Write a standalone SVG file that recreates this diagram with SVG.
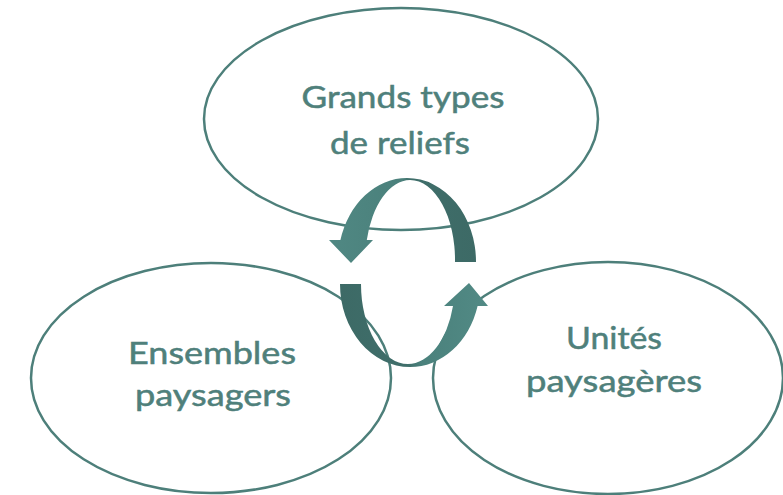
<svg xmlns="http://www.w3.org/2000/svg" width="783" height="495" viewBox="0 0 783 495">
  <style>
    .node-shape { fill: #ffffff; stroke: #4d7f7a; stroke-width: 2.5; }
    .label { font-family: Lato, "Open Sans", "Liberation Sans", sans-serif; font-size: 30px; fill: #4f807b; stroke: #4f807b; stroke-width: 0.5; text-anchor: middle; }
  </style>
  <defs>
    <linearGradient id="gTop" x1="0" y1="0" x2="1" y2="0">
      <stop offset="0" stop-color="#508883"/>
      <stop offset="0.5" stop-color="#4a807b"/>
      <stop offset="0.55" stop-color="#3f6e6a"/>
      <stop offset="1" stop-color="#3d6a66"/>
    </linearGradient>
    <linearGradient id="gBot" x1="0" y1="0" x2="1" y2="0">
      <stop offset="0" stop-color="#3d6a66"/>
      <stop offset="0.45" stop-color="#3f6e6a"/>
      <stop offset="0.55" stop-color="#4a817c"/>
      <stop offset="1" stop-color="#528a85"/>
    </linearGradient>
  </defs>

  <g id="node-reliefs">
    <ellipse class="node-shape" cx="401" cy="119" rx="197" ry="111"/>
    <text class="label" x="403" y="108" textLength="203" lengthAdjust="spacingAndGlyphs">Grands types</text>
    <text class="label" x="400" y="154" textLength="140" lengthAdjust="spacingAndGlyphs">de reliefs</text>
  </g>

  <g id="node-ensembles">
    <ellipse class="node-shape" cx="211" cy="378" rx="180" ry="115"/>
    <text class="label" x="212" y="364" textLength="168" lengthAdjust="spacingAndGlyphs">Ensembles</text>
    <text class="label" x="213" y="406" textLength="156" lengthAdjust="spacingAndGlyphs">paysagers</text>
  </g>

  <g id="node-unites">
    <ellipse class="node-shape" cx="608" cy="378" rx="175" ry="116"/>
    <text class="label" x="614" y="349" textLength="96" lengthAdjust="spacingAndGlyphs">Unités</text>
    <text class="label" x="614" y="392" textLength="176" lengthAdjust="spacingAndGlyphs">paysagères</text>
  </g>

  <g id="connectors">
    <path id="arrow-top" fill="url(#gTop)" d="M 476 262 A 69 84 0 0 0 407 178 A 69 84 0 0 0 340.4 240 L 329 240 L 351 263 L 373 240 L 366.8 240 A 45 80 0 0 1 410 180 A 45 80 0 0 1 455 262 Z"/>
    <path id="arrow-bottom" fill="url(#gBot)" d="M 340 284 A 70 83 0 0 0 410 367 A 70 83 0 0 0 477.6 306 L 488 306 L 469 283 L 444 306 L 453 306 A 47 80 0 0 1 408 364 A 47 80 0 0 1 361 284 Z"/>
  </g>
</svg>
